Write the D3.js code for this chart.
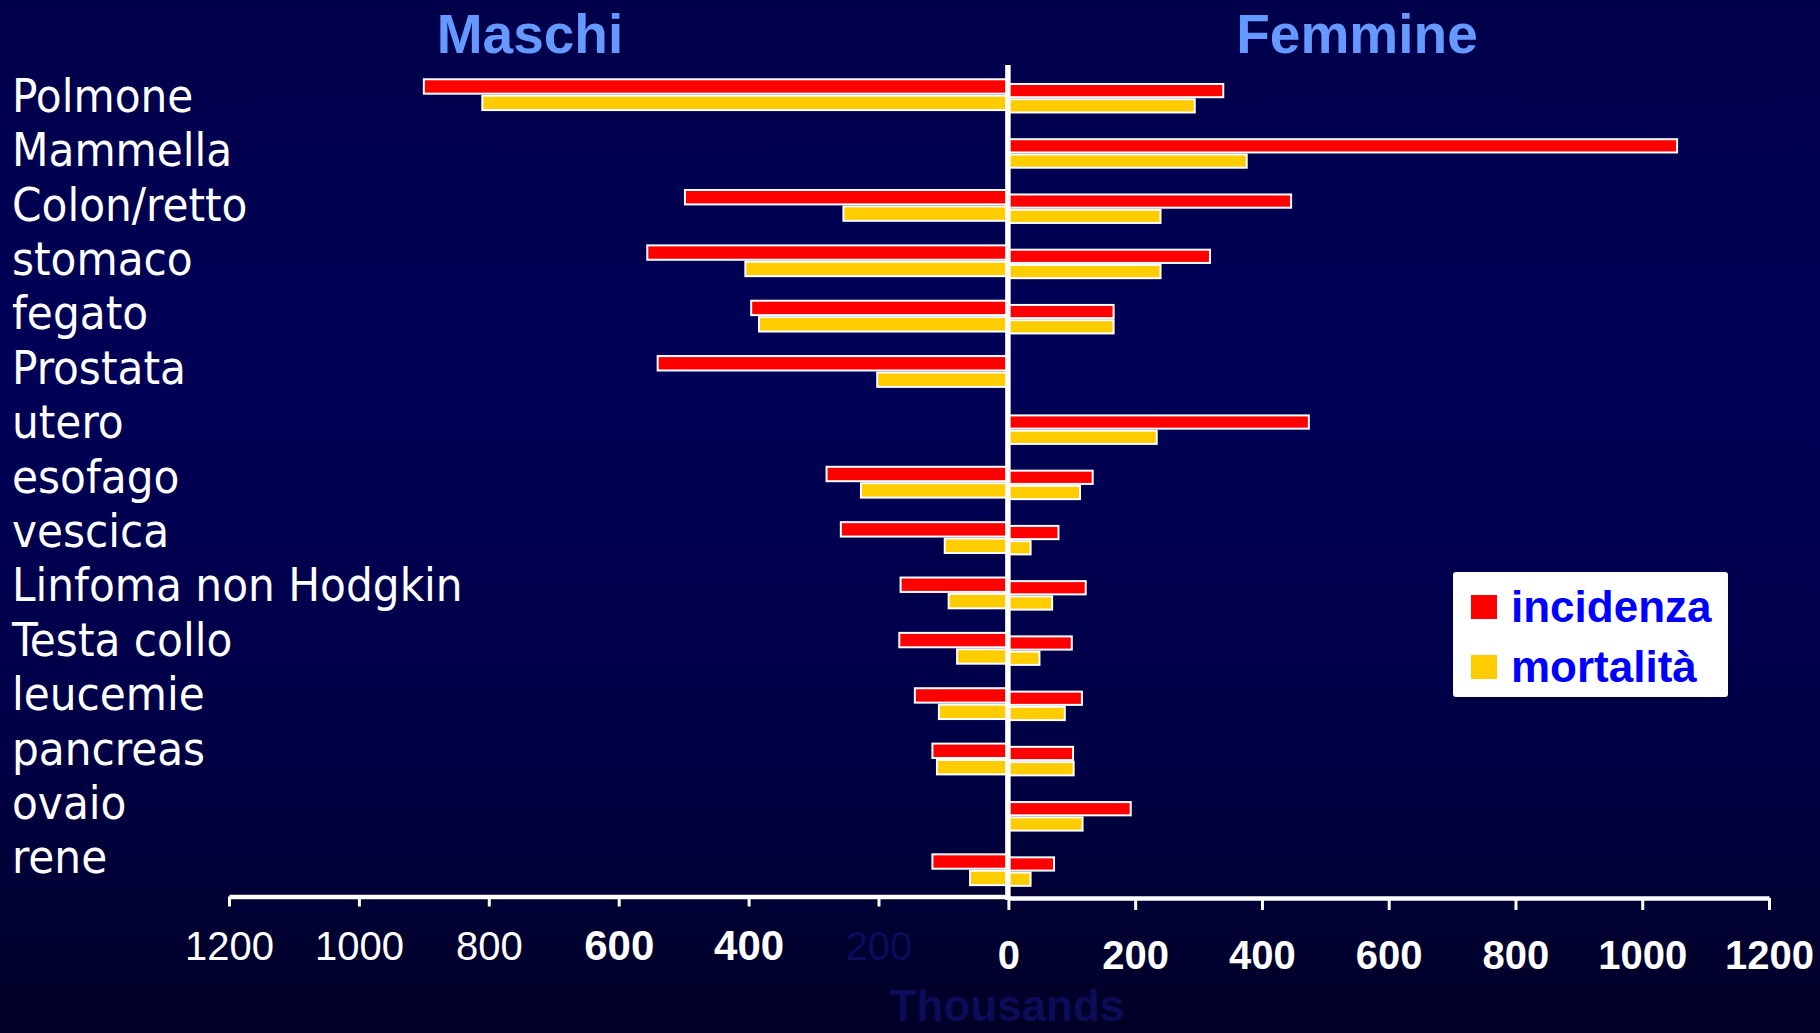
<!DOCTYPE html>
<html>
<head>
<meta charset="utf-8">
<script src="https://cdn.jsdelivr.net/npm/d3@7"></script>
<style>
  html, body { margin: 0; padding: 0; background: #000040; overflow: hidden; }
  svg { display: block; }
</style>
</head>
<body>
<svg id="chart" width="1820" height="1033"></svg>
<script>
// Tumour sites, top to bottom
const categories = ["Polmone", "Mammella", "Colon/retto", "stomaco", "fegato", "Prostata", "utero",
  "esofago", "vescica", "Linfoma non Hodgkin", "Testa collo", "leucemie", "pancreas", "ovaio", "rene"];

// Maschi (thousands of cases)
const maleIncidence = [900, null, 498, 556, 396, 540, null, 280, 258, 166, 168, 144, 117, null, 117];
const maleMortality = [810, null, 254, 405, 384, 202, null, 227, 98, 92, 79, 107, 110, null, 59];

// Femmine (thousands of cases)
const femaleIncidence = [339, 1055, 446, 318, 166, null, 474, 133, 79, 122, 100, 116, 102, 193, 72];
const femaleMortality = [294, 376, 240, 240, 166, null, 234, 113, 35, 69, 49, 89, 103, 117, 35];

const seriesKeys = ["incidenza", "mortalità"];
const tickValues = [0, 200, 400, 600, 800, 1000, 1200];
const panelTitles = ["Maschi", "Femmine"];
const unitLabel = "Thousands";

const colors = { "incidenza": "#ff0000", "mortalità": "#ffcc00" };

const svg = d3.select("#chart");
const W = 1820, H = 1033;

// background gradient
const defs = svg.append("defs");
const grad = defs.append("linearGradient").attr("id", "bg")
  .attr("x1", 0).attr("y1", 0).attr("x2", 0).attr("y2", 1);
grad.append("stop").attr("offset", "0%").attr("stop-color", "#00004a");
grad.append("stop").attr("offset", "35%").attr("stop-color", "#000057");
grad.append("stop").attr("offset", "70%").attr("stop-color", "#000048");
grad.append("stop").attr("offset", "100%").attr("stop-color", "#000026");
svg.append("rect").attr("width", W).attr("height", H).attr("fill", "url(#bg)");

// scales: the two halves have slightly different widths
const zeroX = 1008.4;
const xL = d3.scaleLinear().domain([0, 1200]).range([zeroX, 229]);
const xR = d3.scaleLinear().domain([0, 1200]).range([zeroX, 1769]);

const yL = d3.scaleBand().domain(categories).range([67, 897.4])
  .paddingInner(0.4075).paddingOuter(0.20375);
const yR = d3.scaleBand().domain(categories).range([70.6, 899.2])
  .paddingInner(0.448).paddingOuter(0.224);
const subL = d3.scaleBand().domain(seriesKeys).range([0, yL.bandwidth()]);
const subR = d3.scaleBand().domain(seriesKeys).range([0, yR.bandwidth()]);

function rows(inc, mort) {
  const out = [];
  categories.forEach((c, i) => {
    if (inc[i] != null) out.push({ cat: c, key: "incidenza", v: inc[i] });
    if (mort[i] != null) out.push({ cat: c, key: "mortalità", v: mort[i] });
  });
  return out;
}

// Maschi bars (growing leftwards)
svg.append("g").selectAll("rect")
  .data(rows(maleIncidence, maleMortality))
  .join("rect")
  .attr("x", d => xL(d.v))
  .attr("y", d => yL(d.cat) + subL(d.key) + 1)
  .attr("width", d => xL(0) - xL(d.v))
  .attr("height", subL.bandwidth() - 2)
  .attr("fill", d => colors[d.key])
  .attr("stroke", "#ffffff")
  .attr("stroke-width", 2);

// Femmine bars (growing rightwards)
svg.append("g").selectAll("rect")
  .data(rows(femaleIncidence, femaleMortality))
  .join("rect")
  .attr("x", d => xR(0))
  .attr("y", d => yR(d.cat) + subR(d.key) + 1)
  .attr("width", d => xR(d.v) - xR(0))
  .attr("height", subR.bandwidth() - 2)
  .attr("fill", d => colors[d.key])
  .attr("stroke", "#ffffff")
  .attr("stroke-width", 2);

// central vertical axis
svg.append("line")
  .attr("x1", zeroX - 0.5).attr("x2", zeroX - 0.5)
  .attr("y1", 65).attr("y2", 900)
  .attr("stroke", "#ffffff").attr("stroke-width", 5.5);

// bottom axes
function styleAxis(g) {
  g.select(".domain").attr("stroke", "#ffffff").attr("stroke-width", 4.5);
  g.selectAll(".tick line").attr("stroke", "#ffffff").attr("stroke-width", 3);
  g.selectAll(".tick text").attr("fill", "#ffffff").attr("font-family", "'Liberation Sans', Arial, sans-serif");
}

const axisLeftG = svg.append("g").attr("transform", "translate(0,896.5)")
  .call(d3.axisBottom(xL).tickValues(tickValues.slice(1)).tickSize(10).tickSizeOuter(0).tickFormat(d3.format("d")));
styleAxis(axisLeftG);
axisLeftG.selectAll(".tick text")
  .attr("y", 63.5).attr("dy", 0)
  .attr("font-size", d => (d === 600 || d === 400) ? 42 : 40)
  .attr("font-weight", d => (d === 600 || d === 400) ? "bold" : "normal")
  .attr("fill", d => d === 200 ? "#0c0c5c" : "#ffffff");

const axisRightG = svg.append("g").attr("transform", "translate(0,898)")
  .call(d3.axisBottom(xR).tickValues(tickValues).tickSize(12).tickSizeOuter(0).tickFormat(d3.format("d")));
styleAxis(axisRightG);
axisRightG.selectAll(".tick text")
  .attr("y", 71).attr("dy", 0)
  .attr("font-size", 40).attr("font-weight", "bold");

// unit label
svg.append("text")
  .attr("x", 1007).attr("y", 1021)
  .attr("text-anchor", "middle")
  .attr("font-family", "'Liberation Sans', Arial, sans-serif")
  .attr("font-weight", "bold").attr("font-size", 44)
  .attr("fill", "#0c0c58")
  .text(unitLabel);

// category labels
const yLabel = d3.scalePoint().domain(categories).range([111.7, 873.3]);
svg.append("g").selectAll("text")
  .data(categories)
  .join("text")
  .attr("x", 12)
  .attr("y", d => yLabel(d))
  .attr("font-family", "'DejaVu Sans Condensed', 'DejaVu Sans', sans-serif")
  .attr("font-size", 47)
  .attr("fill", "#ffffff")
  .text(d => d);

// panel titles
svg.append("text")
  .attr("x", 530).attr("y", 53).attr("text-anchor", "middle")
  .attr("font-family", "'Liberation Sans', Arial, sans-serif")
  .attr("font-weight", "bold").attr("font-size", 55)
  .attr("fill", "#6699ff").text(panelTitles[0]);
svg.append("text")
  .attr("x", 1357).attr("y", 53).attr("text-anchor", "middle")
  .attr("font-family", "'Liberation Sans', Arial, sans-serif")
  .attr("font-weight", "bold").attr("font-size", 55)
  .attr("fill", "#6699ff").text(panelTitles[1]);

// legend
const legend = svg.append("g");
legend.append("rect")
  .attr("x", 1453).attr("y", 572).attr("width", 275).attr("height", 125)
  .attr("rx", 3).attr("fill", "#ffffff");
const legendRow = d3.scalePoint().domain(seriesKeys).range([607, 667]);
const li = legend.selectAll("g.item").data(seriesKeys).join("g").attr("class", "item");
li.append("rect")
  .attr("x", 1471).attr("y", d => legendRow(d) - 12)
  .attr("width", 26).attr("height", 24)
  .attr("fill", d => colors[d]);
li.append("text")
  .attr("x", 1511).attr("y", d => legendRow(d) + 15)
  .attr("font-family", "'Liberation Sans', Arial, sans-serif")
  .attr("font-weight", "bold").attr("font-size", 44)
  .attr("fill", "#0000ff")
  .text(d => d);
</script>
</body>
</html>
